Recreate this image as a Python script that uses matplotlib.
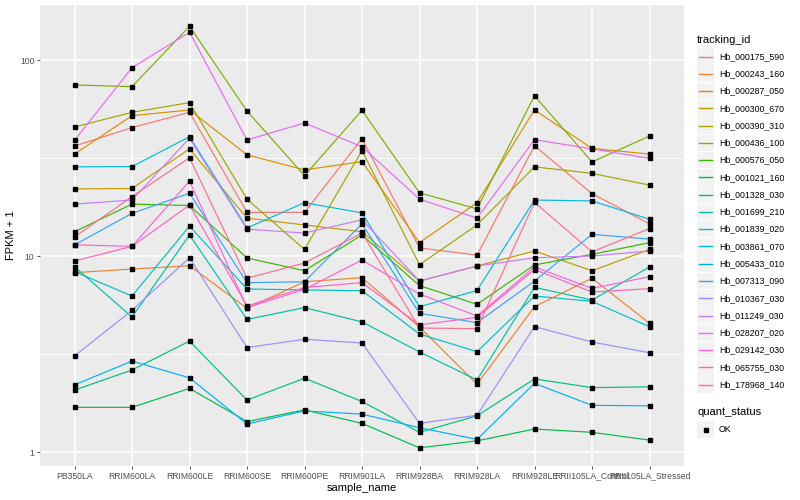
import numpy as np
import matplotlib
matplotlib.use("Agg")
import matplotlib.pyplot as plt
import matplotlib.patches as mpatches

plt.rcParams['font.family'] = ['Liberation Sans', 'DejaVu Sans']

samples = ["PB350LA", "RRIM600LA", "RRIM600LE", "RRIM600SE", "RRIM600PE",
           "RRIM901LA", "RRIM928BA", "RRIM928LA", "RRIM928LE",
           "RRII105LA_Control", "RRII105LA_Stressed"]

ids = ["Hb_000175_590", "Hb_000243_160", "Hb_000287_050", "Hb_000300_670",
       "Hb_000390_310", "Hb_000436_100", "Hb_000576_050", "Hb_001021_160",
       "Hb_001328_030", "Hb_001699_210", "Hb_001839_020", "Hb_003861_070",
       "Hb_005433_010", "Hb_007313_090", "Hb_010367_030", "Hb_011249_030",
       "Hb_028207_020", "Hb_029142_030", "Hb_065755_030", "Hb_178968_140"]

# FPKM + 1 per sample
hb_000175_590 = [36.4, 45.2, 54.1, 16.7, 16.7, 39.7, 11.0, 10.1, 36.5, 20.8, 14.6]
hb_000243_160 = [8.22, 8.58, 8.92, 5.41, 7.39, 7.75, 4.34, 2.22, 5.51, 7.70, 4.54]
hb_000287_050 = [33.1, 52.0, 55.6, 32.8, 27.5, 30.3, 11.7, 18.7, 55.6, 35.4, 33.1]
hb_000300_670 = [22.0, 22.1, 35.2, 15.6, 14.4, 13.3, 7.45, 8.89, 10.6, 8.41, 10.8]
hb_000390_310 = [45.5, 54.1, 60.6, 19.5, 10.8, 34.5, 9.03, 14.4, 28.5, 26.4, 23.0]
hb_000436_100 = [74.6, 73.1, 148.6, 54.9, 25.7, 55.4, 21.0, 17.4, 65.7, 30.2, 40.9]
hb_000576_050 = [13.3, 18.4, 18.1, 9.77, 8.41, 12.8, 7.06, 5.67, 9.00, 10.2, 11.7]
hb_001021_160 = [1.69, 1.69, 2.11, 1.43, 1.64, 1.40, 1.05, 1.14, 1.31, 1.26, 1.15]
hb_001328_030 = [2.07, 2.62, 3.68, 1.84, 2.38, 1.81, 1.26, 1.53, 2.36, 2.13, 2.15]
hb_001699_210 = [8.82, 4.88, 12.8, 4.75, 5.45, 4.61, 3.24, 2.33, 6.92, 5.96, 8.79]
hb_001839_020 = [8.32, 6.25, 14.2, 6.79, 6.71, 6.65, 4.00, 3.25, 6.25, 5.87, 4.36]
hb_003861_070 = [28.5, 28.6, 40.6, 13.9, 18.7, 16.6, 5.51, 6.67, 19.3, 19.1, 15.4]
hb_005433_010 = [2.20, 2.91, 2.39, 1.39, 1.62, 1.56, 1.33, 1.16, 2.24, 1.73, 1.72]
hb_007313_090 = [11.4, 16.5, 20.9, 7.31, 7.39, 14.6, 5.10, 4.57, 7.45, 12.9, 12.2]
hb_010367_030 = [3.09, 5.28, 9.80, 3.41, 3.76, 3.60, 1.40, 1.54, 4.36, 3.64, 3.21]
hb_011249_030 = [18.4, 19.3, 39.9, 13.7, 13.1, 15.3, 7.45, 8.89, 9.80, 10.0, 10.6]
hb_028207_020 = [38.9, 91.3, 138.5, 39.1, 47.7, 36.1, 19.5, 15.6, 39.2, 35.2, 31.5]
hb_029142_030 = [11.4, 11.2, 24.1, 5.45, 6.76, 9.54, 6.40, 4.94, 8.79, 6.84, 7.84]
hb_065755_030 = [9.43, 11.2, 18.2, 5.56, 6.91, 7.31, 4.45, 4.87, 8.53, 6.55, 6.81]
hb_178968_140 = [12.5, 20.1, 31.7, 7.70, 9.21, 13.1, 4.29, 4.26, 18.8, 10.5, 13.8]

series = [hb_000175_590, hb_000243_160, hb_000287_050, hb_000300_670,
          hb_000390_310, hb_000436_100, hb_000576_050, hb_001021_160,
          hb_001328_030, hb_001699_210, hb_001839_020, hb_003861_070,
          hb_005433_010, hb_007313_090, hb_010367_030, hb_011249_030,
          hb_028207_020, hb_029142_030, hb_065755_030, hb_178968_140]

# ggplot default hue palette, 20 levels
colors = ["#F8766D", "#EA8331", "#D89000", "#C09B00", "#A3A500", "#7CAE00",
          "#39B600", "#00BB4E", "#00BF7D", "#00C1A3", "#00BFC4", "#00BAE0",
          "#00B0F6", "#35A2FF", "#9590FF", "#C77CFF", "#E76BF3", "#FA62DB",
          "#FF62BC", "#FF6C91"]

W, H = 800, 500
fig = plt.figure(figsize=(W / 100, H / 100), dpi=100)
fig.patch.set_facecolor("white")

# panel in pixel terms
pl, pr, pt, pb = 40, 684, 5, 466
ax = fig.add_axes([pl / W, 1 - pb / H, (pr - pl) / W, (pb - pt) / H])
ax.set_facecolor("#EBEBEB")

x = np.arange(len(samples))
for vals, c in zip(series, colors):
    ax.plot(x, vals, color=c, lw=0.85, zorder=3)
for vals in series:
    ax.plot(x, vals, ls="none", marker="s", ms=2.4, color="black", zorder=4)

ax.set_yscale("log")
ax.set_xlim(-0.6, len(samples) - 1 + 0.6)
ytop = (452 - pt) / 196
ybot = ytop - (pb - pt) / 196
ax.set_ylim(10 ** ybot, 10 ** ytop)

ax.set_yticks([1, 10, 100])
ax.set_yticklabels(["1", "10", "100"])
ax.yaxis.set_minor_locator(matplotlib.ticker.FixedLocator([10 ** 0.5, 10 ** 1.5]))
ax.yaxis.set_minor_formatter(matplotlib.ticker.NullFormatter())
ax.set_xticks(x)
ax.set_xticklabels(samples)

ax.grid(True, which="major", color="white", lw=1.1, zorder=1)
ax.grid(True, which="minor", axis="y", color="white", lw=0.55, zorder=1)
ax.set_axisbelow(True)
for s in ax.spines.values():
    s.set_visible(False)
ax.tick_params(axis="both", which="major", length=2.5, width=0.6, color="#333333",
               labelsize=6.2, labelcolor="#4D4D4D", pad=1.5)
ax.tick_params(axis="y", which="minor", length=0)

ax.set_xlabel("sample_name", fontsize=8, color="black", labelpad=1.5)
ax.set_ylabel("FPKM + 1", fontsize=8, color="black", labelpad=3)

# legend drawn in pixel coordinates
lg = fig.add_axes([0, 0, 1, 1])
lg.set_xlim(0, W)
lg.set_ylim(H, 0)
lg.axis("off")

lg.text(697, 40, "tracking_id", fontsize=8, va="center", ha="left")
y0, dy = 56.5, 17.27
for i, (name, c) in enumerate(zip(ids, colors)):
    yy = y0 + i * dy
    lg.add_patch(mpatches.Rectangle((697, yy - 8.3), 17, 16.6, facecolor="#F2F2F2",
                                    edgecolor="none", zorder=1))
    lg.plot([699, 712], [yy, yy], color=c, lw=1.0, zorder=2)
    lg.text(719, yy, name, fontsize=6.3, va="center", ha="left")

lg.text(697, 412, "quant_status", fontsize=8, va="center", ha="left")
lg.add_patch(mpatches.Rectangle((697, 429.5 - 8.3), 17, 16.6, facecolor="#F2F2F2",
                                edgecolor="none", zorder=1))
lg.plot([705.5], [429.5], marker="s", ms=2.4, color="black", zorder=2)
lg.text(719, 429.5, "OK", fontsize=6.3, va="center", ha="left")

fig.savefig("out.png", dpi=100)
